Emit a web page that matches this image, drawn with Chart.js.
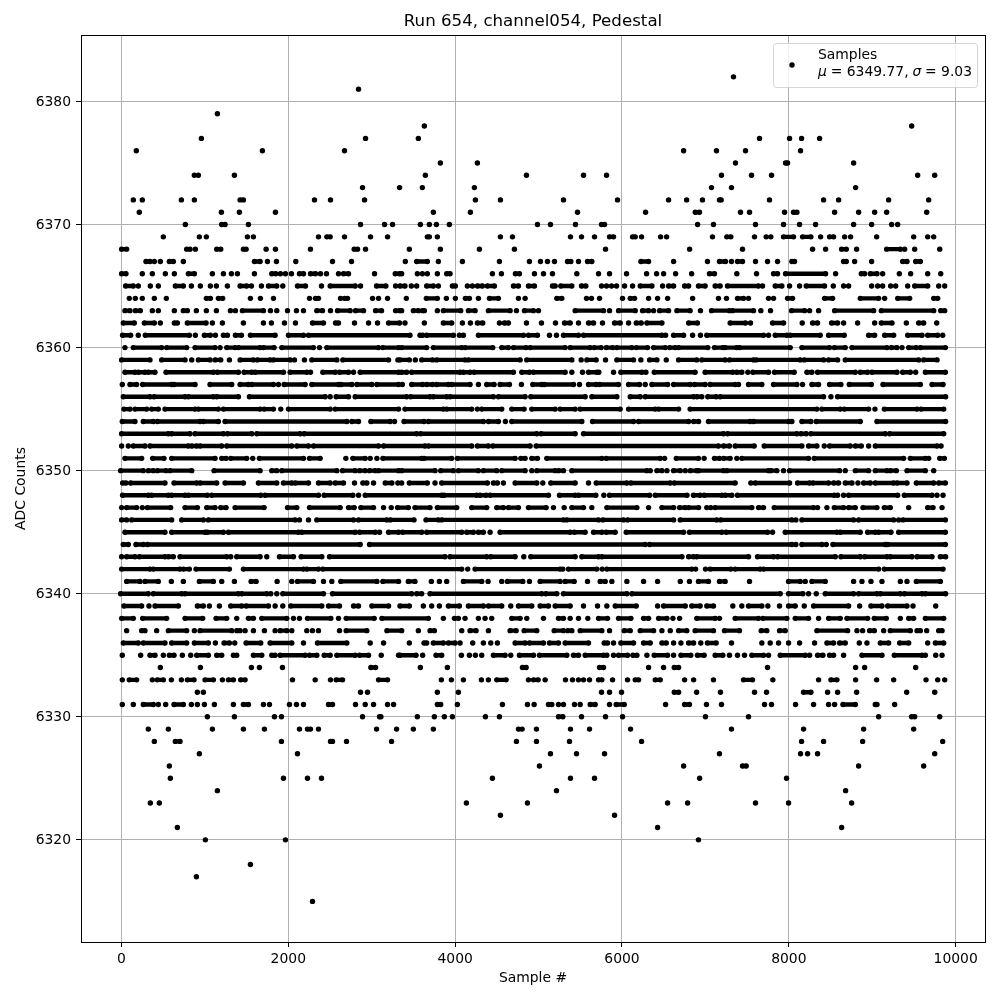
<!DOCTYPE html>
<html>
<head>
<meta charset="utf-8">
<title>Run 654, channel054, Pedestal</title>
<script src="https://cdn.jsdelivr.net/npm/chart.js@4"></script>
<style>
  html, body { margin: 0; padding: 0; background: #fff; }
  #wrap { width: 1000px; height: 1000px; }
</style>
</head>
<body>
<div id="wrap"><canvas id="chart" width="1000" height="1000"></canvas></div>
<script>
// Sample numbers, one list per ADC level.
// A plain number is a lone dot, [a, b] is a stretch of touching dots from a to b.
const adc6382 = [7337];
const adc6381 = [2842];
const adc6379 = [1150];
const adc6378 = [3631, 9473];
const adc6377 = [958, 2926, 3559, 7649, 8009, 8153, 8369];
const adc6376 = [178, 1690, 2674, 6739, 7133, 7481, 8141];
const adc6375 = [3823, 4267, 7361, [7961, 7985], 8777];
const adc6374 = [874, 922, 1354, 3643, 4855, 5539, 5815, 7193, 7553, 7793, 9545, 9749];
const adc6373 = [2890, 3334, 3607, 4231, 7073, 7313, 8801];
const adc6372 = [142, 250, 718, 874, [1422, 1462], 2314, 2506, 2914, 4243, 4543, 5299, 5947, 6559, 6775, 6965, [7169, 7189], 7769, 8417, 8597, 9197, 9677];
const adc6371 = [214, 1198, 1414, 1846, 3739, 4183, 5467, 6283, [6879, 6929], 7421, 7529, 7949, [8057, 8097], 8549, 8837, 9029, 9173, 9653];
const adc6370 = [766, [1202, 1242], 1522, 2866, 3154, 3250, 3583, 3691, 3775, 3931, 4987, 5143, 5443, [5755, 5791], 6907, 7097, 7601, 7937, 8129, 8321, 8777, 8993, 9233, 9305];
const adc6369 = [502, 934, 1018, 1510, 1582, 2362, [2462, 2502], 2674, 2986, 3190, [3667, 3691], 3787, 4543, 4687, 5383, 5515, 5671, [5851, 5899], [6127, 6159], 6235, 6463, 6535, 7085, [7257, 7305], 7589, 7729, 7785, [7937, 8057], [8165, 8265], 8381, [8489, 8537], 8669, 8741, 9053, 9497, 9665, 9737];
const adc6368 = [[2, 62], [782, 822], 886, [1142, 1190], [1462, 1494], 1734, 1846, 2266, [2790, 2830], 2926, 3451, 3823, 4291, 4711, 5803, 6811, 7445, 8285, 8441, [8633, 8689], 8813, [9173, 9337], 9389, 9509, 9809];
const adc6367 = [[294, 342], 394, 466, [574, 622], 742, [1594, 1662], 1750, 1858, 2090, 2530, 2758, 3403, [3539, 3667], 3799, 4087, 4531, 4891, 5023, 5107, 5191, [5347, 5387], 5479, [5587, 5639], [6227, 6319], 6619, 7025, [7169, 7241], 7313, [7385, 7445], 7601, 7745, 7865, [8037, 8069], [8657, 8689], 8789, 8993, [9365, 9417], [9521, 9577]];
const adc6366 = [[2, 54], 250, 370, 526, 634, [802, 874], 1090, 1222, 1318, 1390, 1594, [1802, 1850], 1906, 1966, 2038, [2134, 2182], [2266, 2326], 2386, 2458, 2602, [2662, 2722], 3034, [3282, 3334], 3359, 3547, 3607, 3667, 3787, [3899, 3939], 4447, 4555, [4723, 4771], 4951, 5059, 5167, 5459, 5719, 5851, 6055, 6295, 6415, 6499, 6643, 6835, [7049, 7109], 7377, 7613, [7817, 7865], [7961, 8441], 8561, [8869, 8909], [8977, 9057], 9125, 9325, 9461, 9665, 9821];
const adc6365 = [[50, 142], 202, 346, 442, [646, 742], 838, 946, 1066, 1138, 1270, [1422, 1502], 1558, 1678, [1762, 1862], 1934, [2110, 2206], 2398, [2502, 2802], 2866, [3058, 3170], 3286, [3339, 3399], 3475, 3539, [3659, 3739], 3799, [3967, 4003], 4147, 4207, [4267, 4327], [4387, 4471], [4699, 4759], [4879, 4951], [5167, 5199], [5267, 5399], [5515, 5567], 5755, 5815, 5875, 5935, 6031, 6127, [6219, 6359], 6487, [6559, 6619], [6751, 6799], [6917, 6997], [7117, 7177], [7265, 7637], 7685, [7837, 7917], 8009, 8129, [8209, 8429], 8533, 8657, 8717, 8993, 9065, 9125, 9221, 9281, 9425, [9509, 9665], 9797, 9869];
const adc6364 = [94, 166, 250, 394, 538, [1018, 1066], [1162, 1214], 1546, 1666, 1822, 2254, [2326, 2362], 2626, [2674, 2710], 3010, 3082, 3190, 3415, [3655, 3787], 3895, 4003, [4123, 4171], 4279, [4411, 4519], 4759, 4839, [5219, 5279], 5575, 5635, 5731, 6007, [6099, 6151], 6319, 6427, 6547, 6847, 7157, 7253, [7385, 7457], 7517, 7757, 7817, [7985, 8045], [8429, 8525], [8857, 9077], 9149, [9305, 9449], [9737, 9785]];
const adc6363 = [[42, 102], [166, 226], 370, 442, 634, [742, 790], 898, 1018, 1138, 1306, 1366, [1450, 1702], 1786, 1862, 1990, 2098, 2182, [2342, 2410], 2506, [2590, 2742], [2806, 2902], [3046, 3118], [3286, 3334], 3359, [3499, 3559], [3607, 3631], 3787, [3859, 4067], [4159, 4239], [4399, 4659], 4735, [4831, 4939], 4999, [5439, 5779], 5851, [5959, 6159], [6247, 6319], 6379, [6451, 6559], [6659, 6817], 6941, [7073, 7289], [7325, 7577], 7665, 7781, [8033, 8189], 8249, 8357, [8549, 9017], [9109, 9737], [9821, 9869]];
const adc6362 = [[22, 154], [274, 394], 466, [634, 670], [790, 1014], 1090, 1210, 1462, 1702, 1798, 1954, 2086, [2290, 2422], [2566, 2602], 2794, 2962, 3070, [3202, 3334], 3399, 3631, [3859, 3959], 4087, 4183, [4267, 4331], 4531, [4591, 4639], 4855, 5035, 5203, [5311, 5379], 5479, [5599, 5659], 5767, [5911, 5979], 6079, [6171, 6231], [6299, 6479], [6799, 6905], [7297, 7481], 7541, [7805, 7937], 8161, [8285, 8345], [8513, 8585], 8657, 8825, 9029, [9109, 9237], 9409, [9557, 9617], 9773];
const adc6361 = [[14, 110], 202, [286, 814], 886, [994, 1066], 1126, [1222, 1270], [1366, 1438], [1546, 1842], [2002, 2182], [2242, 3459], [3579, 3611], [3659, 3979], [4051, 4099], [4279, 4819], [4879, 4987], 5131, 5215, [5299, 5479], [5539, 6479], 6523, [6619, 6739], 6847, 6941, [7017, 7697], 7757, [7837, 7977], [8017, 8377], [8477, 8665], [8957, 9029], [9149, 9257], [9425, 9597], [9665, 9785], 9845];
const adc6360 = [42, [142, 482], [542, 782], [882, 1122], 1182, [1262, 1362], [1402, 1662], [1702, 1830], [1922, 2302], 2374, [2462, 3082], [3134, 3322], [3359, 3659], [3739, 4079], [4119, 4451], [4559, 4639], [4699, 4851], [4899, 5319], [5379, 5619], [5667, 5751], [5811, 5891], [5939, 6119], [6171, 6307], [6379, 6519], [6571, 6639], [6679, 7029], [7109, 7209], [7237, 7377], [7409, 8017], [8157, 8489], [8545, 8677], [8757, 9177], [9229, 9297], 9357, [9437, 9529], [9577, 9877]];
const adc6359 = [[2, 342], [482, 762], 842, [922, 1062], [1122, 1190], 1294, [1422, 1582], [1630, 1782], [1822, 2022], 2074, 2194, [2282, 2582], [2654, 3202], 3314, [3339, 3451], 3523, [3599, 3731], [3779, 4119], [4159, 4779], [4859, 5399], 5511, [5579, 5691], 5803, [5939, 6139], 6227, [6331, 6419], 6531, [6679, 6897], [6957, 7237], [7289, 7577], [7609, 8137], [8185, 8417], [8477, 8585], [8677, 9557], [9617, 9777]];
const adc6358 = [[42, 162], [202, 282], [322, 402], [534, 1102], [1150, 1402], [1470, 1562], [1602, 1942], [2022, 2222], 2266, [2414, 2562], [2614, 2722], 2782, [2862, 3322], [3359, 3419], [3479, 4059], [4099, 4179], [4227, 4699], [4799, 4891], [4939, 5319], 5399, 5527, [5599, 5699], 5723, 5899, [5987, 6239], 6287, [6387, 6877], [6997, 7329], [7377, 7437], 7509, [7569, 7757], [7829, 8065], [8217, 8277], [8345, 8797], [8857, 8945], [8997, 9297], [9365, 9457], 9521, [9637, 9877]];
const adc6357 = [10, [102, 182], [254, 602], [630, 882], [1062, 1322], [1422, 1522], [1562, 1822], 1882, [1950, 2202], [2282, 2602], [2630, 2762], [2822, 3002], [3062, 3322], 3367, [3479, 3611], [3659, 3731], [3779, 3919], [3959, 4179], 4279, [4379, 4467], [4539, 4651], 4795, [4931, 5039], [5067, 5419], 5491, [5599, 5691], [5731, 5959], [6079, 6211], 6279, [6359, 6547], [6619, 6817], [6869, 6997], [7057, 7357], 7397, [7517, 7677], [7817, 8097], 8165, [8277, 8357], [8489, 8625], [8725, 8989], [9129, 9577], [9717, 9849]];
const adc6356 = [[22, 342], [390, 762], [802, 1102], [1142, 1402], [1534, 2442], 2502, [2574, 2722], [2802, 3419], [3467, 3699], [3739, 3899], [3939, 4459], [4519, 4839], [4907, 5559], [5639, 5939], [6099, 6219], [6279, 6859], [6899, 6957], [7029, 7129], [7177, 8417], 8505, [8585, 9880]];
const adc6355 = [[30, 102], [162, 302], [362, 442], [522, 882], [922, 1162], [1222, 1662], [1710, 1822], 1910, [2002, 2502], [2562, 3322], [3399, 3859], [3899, 4199], 4267, [4319, 4559], [4679, 4827], [4919, 5199], [5259, 5439], [5499, 5979], [6079, 6399], [6439, 6679], [6817, 8337], [8397, 8617], [8665, 8957], 9033, [9145, 9537], [9585, 9857]];
const adc6354 = [[10, 162], [262, 382], [430, 942], [982, 1162], [1242, 2702], [2762, 2842], [2990, 3222], 3274, [3387, 3627], [3679, 4339], [4399, 4519], 4603, [4679, 5519], [5647, 6139], [6199, 6799], [6859, 6919], [7037, 7537], [7577, 7997], 8037, [8157, 8265], [8329, 8857], [9057, 9880]];
const adc6353 = [[2, 562], [602, 822], [882, 1222], [1270, 1562], [1622, 2142], [2190, 3539], [3587, 4979], [5031, 5439], [5539, 7217], [7265, 8097], [8145, 8209], [8265, 9157], [9209, 9857]];
const adc6352 = [2, 82, [142, 282], [342, 802], [842, 902], [942, 1202], [1262, 2042], [2102, 2242], [2302, 3082], [3142, 3639], [3679, 4199], [4267, 4399], [4451, 4899], [4971, 7157], [7217, 7289], [7357, 7585], [7705, 8157], [8237, 8337], 8425, [8489, 8737], [8797, 8869], 8957, [9037, 9777], 9825];
const adc6351 = [[42, 242], [374, 510], [602, 1122], [1202, 1254], [1310, 1502], 1574, [1654, 2182], [2254, 2382], 2690, [2774, 2922], 2982, 3062, [3134, 3599], [3627, 3959], [4027, 4719], [4787, 4839], [4919, 4987], [5099, 5759], [5811, 6459], 6511, [6651, 6917], 6985, [7109, 7169], [7217, 7297], 7377, [7437, 8237], [8305, 9377], [9457, 9637], 9677, [9809, 9865]];
const adc6350 = [[-10, 262], [322, 382], [430, 534], [582, 842], [1110, 1662], [1802, 1862], [1922, 2582], [2650, 2802], [2854, 2922], [2974, 3042], [3082, 3322], [3359, 3759], [3827, 3979], [4039, 4279], [4339, 4499], [4559, 4839], 4919, [4979, 5199], [5239, 5299], [5399, 6299], 6339, [6419, 6479], 6539, [6619, 6699], 6759, [6819, 6919], [6897, 7217], [7257, 7757], [7785, 7857], 7937, [8009, 8609], 8677, [8797, 8957], [9037, 9177], [9217, 9289], [9417, 9637], 9737];
const adc6349 = [[14, 54], [110, 522], [630, 902], [942, 1142], [1242, 1462], [1642, 1862], [1942, 2042], [2082, 2242], [2362, 2502], [2562, 2662], 2794, [2894, 2942], 3022, [3162, 3242], 3314, 3359, [3451, 3667], 3759, [3839, 4387], [4459, 4507], 4579, [4719, 4979], 5051, [5147, 5439], 5599, [5691, 6059], [6107, 6579], [6627, 7357], 7545, [7597, 8009], [8105, 8249], [8289, 8477], [8537, 8597], [8677, 8757], 8829, [8897, 8977], [9037, 9257], [9297, 9417], [9529, 9737], [9797, 9877]];
const adc6348 = [[14, 322], [362, 562], [602, 762], [802, 1030], [1082, 1670], [1722, 2362], [2430, 2774], 2842, [2922, 3839], [3867, 4259], [4299, 4371], [4419, 5119], [5251, 5439], [5479, 5687], 5783, [5851, 6331], [6399, 6779], [6857, 6937], [6985, 7197], [7237, 7317], [7385, 8545], 8585, 8657, [8717, 9305], [9385, 9717], 9777, 9849];
const adc6347 = [2, [62, 182], 250, [310, 590], [762, 910], [1022, 1122], [1190, 1254], [1362, 1710], [1990, 2102], [2254, 2622], [2722, 2790], [2870, 3022], 3142, 3234, [3310, 3439], [3519, 3699], [3787, 4019], [4199, 4379], [4499, 4579], [4639, 4759], [4879, 5091], 5179, 5307, [5399, 5539], 5639, [5819, 6179], 6319, [6479, 6619], [6691, 6759], [6799, 6919], 7017, 7065, [7117, 7557], [7637, 7697], [7825, 8297], 8345, 8457, [8545, 8657], [8717, 8797], [8889, 9057], [9145, 9217], 9437, [9665, 9729], 9837];
const adc6346 = [[2, 62], [122, 602], [722, 982], [1042, 2082], 2134, 2242, [2342, 2782], [2842, 3182], [3222, 3507], [3651, 3799], [3839, 5299], [5339, 5719], [5771, 6019], [6067, 6619], [6699, 7137], [7185, 8037], 8085, [8157, 8777], [8837, 9257], 9317, [9369, 9877]];
const adc6345 = [[42, 522], [602, 1002], [1030, 1222], [1282, 2122], [2162, 2802], [2854, 3042], 3094, [3202, 3322], [3371, 3599], [3659, 4079], [4139, 4219], [4279, 4339], 4419, [4539, 5379], [5427, 5559], [5659, 5759], [5811, 5919], [6051, 6739], [6809, 7197], [7249, 7745], 7805, [7957, 8577], [8617, 8857], [8945, 9037], [9077, 9225], [9317, 9877]];
const adc6344 = [[22, 82], [174, 262], [310, 2862], [2974, 6279], [6331, 8037], 8085, [8157, 8397], 8449, [8529, 9157], [9185, 9877]];
const adc6343 = [2, [62, 162], [214, 522], [562, 622], [702, 1262], 1310, [1382, 1662], 1742, [1894, 2062], [2154, 2402], [2494, 3879], [3939, 4379], [4427, 4719], 4823, [4907, 5439], [5519, 5719], [5759, 6719], [6799, 6859], [6897, 7517], [7625, 7817], [7865, 8557], [8625, 8857], [8909, 9177], [9217, 9477], [9537, 9717], [9817, 9880]];
const adc6342 = [[2, 342], [382, 702], [742, 814], [894, 1294], [1462, 2182], [2222, 2362], [2414, 4079], 4151, [4239, 5259], 5291, [5359, 5699], 5763, [5819, 6837], 6883, 7001, [7057, 7305], [7357, 7657], [7697, 9077], [9145, 9849]];
const adc6341 = [[62, 222], [282, 442], 598, 742, [934, 1102], 1202, 1354, [1554, 1614], 1866, 2042, [2110, 2302], 2422, 2522, [2630, 3062], [3134, 3322], [3439, 3519], 3715, 3811, 3899, [4099, 4319], 4395, 4559, [4627, 4811], 4891, [5019, 5259], [5319, 5427], 5587, [5739, 5799], 5879, 6059, 6259, 6427, 6699, 6809, [6917, 7037], [7169, 7237], 7529, [7997, 8137], 8197, [8277, 8437], 8777, 8877, 8985, 9117, 9337, 9417, [9529, 9817]];
const adc6340 = [[-10, 322], [382, 722], [762, 1402], [1442, 1742], 1790, 1862, [1934, 2422], [2530, 3479], [3539, 3599], [3699, 5039], [5087, 5219], [5299, 6059], [6119, 7897], [7997, 8169], 8237, 8329, [8437, 8777], [8837, 9057], [9097, 9337], [9385, 9597], [9637, 9880]];
const adc6339 = [[30, 242], 330, [402, 682], [910, 982], 1054, 1174, [1310, 1442], [1494, 1762], 1842, 1934, [2030, 2402], [2482, 2614], [2782, 2842], [3002, 3202], [3339, 3451], 3619, 3719, 3811, [3919, 4051], [4159, 4339], [4399, 4559], 4667, [4759, 4919], [5019, 5119], [5199, 5379], 5539, 5707, 5819, [5919, 6171], 6427, [6499, 6759], [6837, 6937], [7017, 7097], 7329, 7437, [7517, 7677], 7749, 7889, [7997, 8077], 8185, [8297, 8717], 8849, [8985, 9117], [9185, 9417], 9489, 9761];
const adc6338 = [[2, 142], [254, 542], [762, 974], [1134, 1262], 1382, [1522, 1582], [1682, 1982], 2062, 2134, [2230, 2510], 2602, [2694, 3030], [3122, 3679], 3859, [3991, 4039], 4119, 4279, 4359, 4439, [4679, 4779], 4859, 5059, [5239, 5299], 5379, 5479, 5591, [5719, 5827], [5959, 6107], [6259, 6319], [6439, 6539], 6611, 6691, [6897, 7117], 7169, [7357, 7637], [7689, 7977], [8077, 8237], 8357, [8477, 8617], [8697, 8945], [9025, 9169], 9337, [9437, 9497], [9637, 9857]];
const adc6337 = [62, [242, 282], 422, [562, 782], 874, [942, 1322], [1382, 1422], 1482, 1582, 1714, 1842, [1902, 1982], 2042, 2222, 2290, 2362, 2614, [2694, 2942], [3182, 3359], 3559, [3699, 3751], 4079, [4179, 4251], 4399, [4659, 4731], [4827, 4979], [5187, 5299], [5351, 5399], [5499, 5759], 5851, [6027, 6099], [6219, 6379], 6479, 6579, [6679, 6777], [6877, 7097], [7229, 7409], [7669, 7737], [7889, 7957], [8337, 8705], 8817, 8885, [8969, 9025], 9137, [9217, 9457], [9537, 9577], 9653, [9797, 9837]];
const adc6336 = [[22, 202], [262, 522], [602, 782], [874, 1042], 1126, [1230, 1294], 1358, [1494, 1670], [1782, 2042], 2182, [2350, 2702], 2982, 3142, 3451, [3627, 3659], [3739, 3859], [3919, 3999], 4059, 4211, 4339, 4427, 4507, [4719, 4839], [4891, 5059], [5131, 5239], [5319, 5599], [5787, 5827], 5899, [5987, 6139], [6259, 6339], [6479, 6531], 6619, 6707, [6799, 6859], 6945, [7025, 7129], 7313, 7677, 7777, 7877, 7997, 8129, 8309, [8457, 8537], [8609, 8677], 8845, 8937, [9097, 9197], [9329, 9437], 9665, [9757, 9857]];
const adc6335 = [10, 230, [342, 402], 502, [574, 630], 730, 830, [902, 1042], [1142, 1202], [1342, 1382], [1582, 1682], [1802, 1842], [1902, 2202], [2254, 2342], [2430, 2502], [2582, 2802], [2854, 2962], 3114, 3322, [3339, 3531], 3611, [3771, 3839], 4075, 4171, 4243, 4319, [4459, 4599], 4667, [4771, 4939], [5011, 5339], [5419, 5479], [5559, 5779], 5819, 5899, [5959, 6067], [6131, 6179], 6299, [6387, 6547], 6619, [6707, 6825], [6905, 6985], [7117, 7209], 7289, 7385, 7469, [7557, 7697], 7757, [7897, 8197], 8249, [8345, 8409], [8489, 8537], 8657, [8877, 9117], [9265, 9597], 9637, 9761, 9837];
const adc6334 = [466, 946, 1558, 1654, 1930, [2990, 3046], 3583, 3907, [4807, 4851], [5731, 5779], 6319, 6499, [6627, 6679], 7745, 8801, 8909, 9521];
const adc6333 = [10, [94, 182], 370, [430, 502], 598, 718, [790, 870], [1002, 1102], 1210, [1282, 1342], [1430, 1482], 2050, 2322, 2506, [2574, 2650], [3082, 3190], 3835, 3955, 4099, 4315, 4399, [4499, 4611], 4879, [4939, 4995], 5079, 5323, 5407, 5479, 5539, 5611, [5719, 5759], 5887, 6067, [6159, 6199], [6399, 6459], 6751, 6859, 7097, [7457, 7565], 7809, 8357, [8505, 8577], 8801, 9053, 9257, 9645, 9785, 9869];
const adc6332 = [910, 982, 2866, 2950, 3787, 4039, 5755, 5851, 5995, [6627, 6679], 6895, 7181, 7589, 7733, [8177, 8265], 8465, 8585, 8813, 9413, 9749];
const adc6331 = [10, 142, [262, 382], 442, 530, [630, 742], 838, 910, 994, 1114, 1342, [1462, 1522], 1702, 1774, 2014, 2098, 2182, [2482, 2530], 2806, 2922, 3022, 3190, 3262, [3787, 3827], 4027, 4567, 4867, 4947, [5119, 5159], 5239, 5299, 5431, 5499, [5619, 5679], 5851, [5931, 6027], 6523, [6751, 6809], 7013, 7193, 7709, 7793, 8081, 8297, 8477, 8549, [8649, 8797], [9037, 9057], 9269];
const adc6330 = [1030, 1354, 1834, 1918, 2890, [3094, 3110], 3547, 3751, 3871, 3967, 4363, 4531, [5239, 5291], 5515, 5803, 6007, 7001, 7517, 9077, [9473, 9509], 9809];
const adc6329 = [322, 562, 1090, 1462, 1714, 2134, [2230, 2266], 2362, 3058, 3298, 3499, 3739, [4759, 4803], 4975, 5383, 5611, 6103, 7313, 8177, 8897, 9497];
const adc6328 = [394, [646, 702], 1918, [2506, 2530], 2698, 3238, 4735, 4975, 5371, 6235, 8153, 8417, 8885, 9845];
const adc6327 = [934, 2110, 5143, 5455, 5791, 7169, 8141, 8225, 8345, 9749];
const adc6326 = [574, 5011, 6739, [7445, 7489], 8837, 9617];
const adc6325 = [586, 1942, 2230, 2398, 4447, 5383, 5671, 6931, 7973];
const adc6324 = [1150, 5215, 8681];
const adc6323 = [346, 454, 4135, 4867, 6547, 6787, 7601, 7997, 8753];
const adc6322 = [4543, 5911];
const adc6321 = [670, 6427, 8633];
const adc6320 = [1006, 1966, 6917];
const adc6318 = [1546];
const adc6317 = [898];
const adc6315 = [2290];

const adcLevels = [6382, 6381, 6379, 6378, 6377, 6376, 6375, 6374, 6373, 6372, 6371, 6370, 6369, 6368, 6367, 6366, 6365, 6364, 6363, 6362, 6361, 6360, 6359, 6358, 6357, 6356, 6355, 6354, 6353, 6352, 6351, 6350, 6349, 6348, 6347, 6346, 6345, 6344, 6343, 6342, 6341, 6340, 6339, 6338, 6337, 6336, 6335, 6334, 6333, 6332, 6331, 6330, 6329, 6328, 6327, 6326, 6325, 6324, 6323, 6322, 6321, 6320, 6318, 6317, 6315];
const adcSamples = [adc6382, adc6381, adc6379, adc6378, adc6377, adc6376, adc6375, adc6374, adc6373, adc6372, adc6371, adc6370, adc6369, adc6368, adc6367, adc6366, adc6365, adc6364, adc6363, adc6362, adc6361, adc6360, adc6359, adc6358, adc6357, adc6356, adc6355, adc6354, adc6353, adc6352, adc6351, adc6350, adc6349, adc6348, adc6347, adc6346, adc6345, adc6344, adc6343, adc6342, adc6341, adc6340, adc6339, adc6338, adc6337, adc6336, adc6335, adc6334, adc6333, adc6332, adc6331, adc6330, adc6329, adc6328, adc6327, adc6326, adc6325, adc6324, adc6323, adc6322, adc6321, adc6320, adc6318, adc6317, adc6315];

const xTicks = [0, 2000, 4000, 6000, 8000, 10000];
const yTicks = [6320, 6330, 6340, 6350, 6360, 6370, 6380];

const chartTitle = "Run 654, channel054, Pedestal";
const legendLabel = "Samples";
const legendMean = "6349.77";
const legendSigma = "9.03";

const FONT = '"DejaVu Sans"';

// NaN y breaks the line, so each stretch stays its own stroke
function rowPoints(level, items) {
  const pts = [];
  items.forEach((it) => {
    if (Array.isArray(it)) {
      pts.push({ x: it[0], y: level }, { x: it[1], y: level });
    } else {
      pts.push({ x: it, y: level });
    }
    pts.push({ x: Array.isArray(it) ? it[1] : it, y: NaN });
  });
  return pts;
}

const datasets = adcLevels.map((level, i) => ({
  label: legendLabel,
  data: rowPoints(level, adcSamples[i]),
  showLine: true,
  spanGaps: false,
  borderColor: "#000",
  backgroundColor: "#000",
  borderWidth: 4.4,
  borderCapStyle: "round",
  pointRadius: 2.7,
  pointBorderWidth: 0,
  pointBackgroundColor: "#000",
}));

// axes frame on all four sides
const framePlugin = {
  id: "frame",
  afterDatasetsDraw(chart) {
    const { ctx, chartArea: a } = chart;
    ctx.save();
    ctx.strokeStyle = "#000";
    ctx.lineWidth = 1;
    ctx.strokeRect(a.left + 0.5, a.top + 0.5, a.right - a.left, a.bottom - a.top);
    ctx.restore();
  },
};

// matplotlib style legend, the built-in one can't do the italic mu and sigma
const legendPlugin = {
  id: "sampleLegend",
  afterDraw(chart) {
    const { ctx } = chart;
    const x = 773.5, y = 43.5, w = 204, h = 44;
    ctx.save();
    ctx.beginPath();
    ctx.roundRect(x, y, w, h, 3);
    ctx.fillStyle = "rgba(255,255,255,0.8)";
    ctx.fill();
    ctx.strokeStyle = "rgba(204,204,204,0.8)";
    ctx.lineWidth = 1;
    ctx.stroke();
    ctx.fillStyle = "#000";
    ctx.beginPath();
    ctx.arc(792, 65, 2.7, 0, Math.PI * 2);
    ctx.fill();
    ctx.textBaseline = "alphabetic";
    ctx.textAlign = "left";
    ctx.font = "13.9px " + FONT;
    ctx.fillText(legendLabel, 818, 59);
    let tx = 818;
    [["italic", "\u03bc"], ["", " = " + legendMean + ", "], ["italic", "\u03c3"], ["", " = " + legendSigma]].forEach((p) => {
      ctx.font = (p[0] ? p[0] + " " : "") + "13.9px " + FONT;
      ctx.fillText(p[1], tx, 76);
      tx += ctx.measureText(p[1]).width - 0.6;
    });
    ctx.restore();
  },
};

new Chart(document.getElementById("chart"), {
  type: "scatter",
  data: { datasets: datasets },
  plugins: [framePlugin, legendPlugin],
  options: {
    responsive: false,
    animation: false,
    events: [],
    layout: { padding: { right: 15 } },
    plugins: {
      legend: { display: false },
      tooltip: { enabled: false },
      title: {
        display: true,
        text: chartTitle,
        fullSize: false,
        color: "#000",
        font: { family: FONT, size: 16.67, weight: "normal" },
        padding: { top: 12, bottom: 3 },
      },
    },
    scales: {
      x: {
        type: "linear",
        min: -485,
        max: 10352,
        afterFit: (s) => { s.height = 58; },
        afterBuildTicks: (s) => { s.ticks = xTicks.map((v) => ({ value: v })); },
        grid: { color: "#b0b0b0", lineWidth: 1, tickColor: "#000", tickLength: 5, drawTicks: true },
        border: { display: false },
        ticks: {
          color: "#000",
          font: { family: FONT, size: 13.9 },
          maxRotation: 0,
          padding: 4,
          callback: (v) => String(v),
        },
        title: {
          display: true,
          text: "Sample #",
          color: "#000",
          font: { family: FONT, size: 13.9 },
          padding: { top: 2, bottom: 13 },
        },
      },
      y: {
        type: "linear",
        min: 6311.7,
        max: 6385.4,
        afterFit: (s) => { s.width = 81; },
        afterBuildTicks: (s) => { s.ticks = yTicks.map((v) => ({ value: v })); },
        grid: { color: "#b0b0b0", lineWidth: 1, tickColor: "#000", tickLength: 5, drawTicks: true },
        border: { display: false },
        ticks: {
          color: "#000",
          font: { family: FONT, size: 13.9 },
          padding: 5,
          labelOffset: 1,
          callback: (v) => String(v),
        },
        title: {
          display: true,
          text: "ADC Counts",
          color: "#000",
          font: { family: FONT, size: 13.9 },
          padding: { top: 13, bottom: 2 },
        },
      },
    },
  },
});
</script>
</body>
</html>
